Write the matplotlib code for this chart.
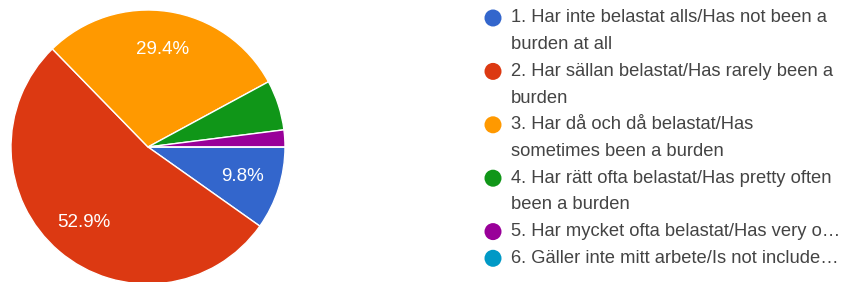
import matplotlib
matplotlib.use("Agg")
import matplotlib.pyplot as plt

categories = [
    "1. Har inte belastat alls/Has not been a\nburden at all",
    "2. Har sällan belastat/Has rarely been a\nburden",
    "3. Har då och då belastat/Has\nsometimes been a burden",
    "4. Har rätt ofta belastat/Has pretty often\nbeen a burden",
    "5. Har mycket ofta belastat/Has very o…",
    "6. Gäller inte mitt arbete/Is not include…",
]
percent = [9.8, 52.9, 29.4, 5.9, 2.0, 0.0]
colors = ["#3366cc", "#dc3912", "#ff9900", "#109618", "#990099", "#0099c6"]

plt.rcParams['font.family'] = ['Liberation Sans', 'DejaVu Sans']

W, H = 841, 282
fig = plt.figure(figsize=(W / 100, H / 100), dpi=100)

cx, cy, r = 148, 147, 137
ax = fig.add_axes([(cx - r) / W, (H - cy - r) / H, 2 * r / W, 2 * r / H])
wedges, texts, autotexts = ax.pie(
    percent, colors=colors, startangle=0, counterclock=False,
    autopct=lambda p: f"{p:.1f}%" if p > 8 else "",
    pctdistance=0.72,
    wedgeprops=dict(edgecolor="white", linewidth=1),
    textprops=dict(color="white", fontsize=13.5),
)
ax.set_xlim(-1, 1)
ax.set_ylim(-1, 1)
ax.set_aspect("equal")

lax = fig.add_axes([0, 0, 1, 1])
lax.set_xlim(0, W)
lax.set_ylim(H, 0)
lax.axis("off")

y0, step = 18, 26.7
line = 0
for cat, col in zip(categories, colors):
    y = y0 + line * step
    lax.scatter([493], [y], s=150, color=col, edgecolors="none")
    for sub in cat.split("\n"):
        lax.text(511, y0 + line * step, sub, fontsize=13.2, color="#444444",
                 va="center", ha="left")
        line += 1

fig.savefig("out.png", dpi=100)
